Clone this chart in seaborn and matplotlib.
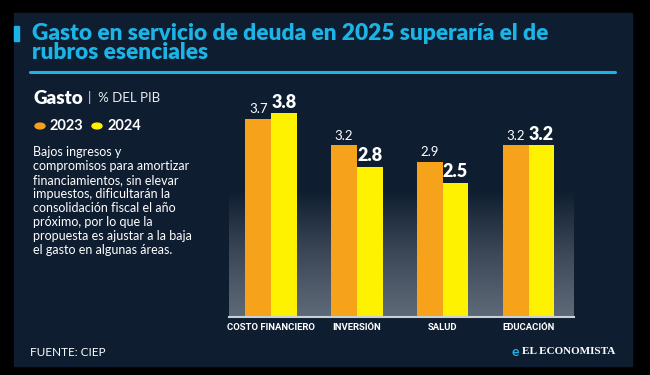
import numpy as np
import pandas as pd
import seaborn as sns
import matplotlib.pyplot as plt
from matplotlib.patches import Rectangle, Circle
from matplotlib.colors import LinearSegmentedColormap

## Data
rubros = ['COSTO FINANCIERO', 'INVERSIÓN', 'SALUD', 'EDUCACIÓN']
gasto_2023 = [3.7, 3.2, 2.9, 3.2]
gasto_2024 = [3.8, 2.8, 2.5, 3.2]
anios = ['2023', '2024']

df = pd.DataFrame({
    'rubro': rubros * 2,
    'valor': gasto_2023 + gasto_2024,
    'anio': [anios[0]] * 4 + [anios[1]] * 4,
})

NAVY = '#0e1d2f'
CYAN = '#1cb4e6'
ORANGE = '#f7a21b'
YELLOW = '#fff200'
W, H = 650, 375

sns.set_style('white')
plt.rcParams['font.family'] = ['Lato', 'DejaVu Sans']

fig = plt.figure(figsize=(6.5, 3.75), dpi=100, facecolor='black')

def fx(px):
    return px / W

def fy(py):
    return 1 - py / H

# panel (behind axes)
fig.patches.append(Rectangle((fx(14), fy(366)), fx(632 - 14), (366 - 13) / H,
                             transform=fig.transFigure, color=NAVY, zorder=-5))
fig.patches.append(Rectangle((fx(14), fy(41)), fx(5), 15 / H,
                             transform=fig.transFigure, color=CYAN, zorder=-4))
fig.lines.append(plt.Line2D([fx(30), fx(615)], [fy(72), fy(72)],
                            transform=fig.transFigure, color=CYAN, lw=2.2))

fig.text(fx(32), fy(43), 'Gasto en servicio de deuda en 2025 superaría el de\nrubros esenciales',
         color=CYAN, fontsize=16.3, fontweight='heavy', va='center', ha='left',
         linespacing=0.92)

# left side text
fig.text(fx(33), fy(98), 'Gasto', color='white', fontsize=13.5, fontweight='heavy', va='center')
fig.text(fx(88), fy(98), '|  % DEL PIB', color='#e8ecf0', fontsize=9.5, va='center')
for cx, col in [(40, ORANGE), (97, YELLOW)]:
    fig.patches.append(Circle((fx(cx), fy(126)), 5 / W, transform=fig.transFigure,
                              color=col, zorder=2))
fig.text(fx(50), fy(126), '2023', color='white', fontsize=10.5, fontweight='bold', va='center')
fig.text(fx(107), fy(126), '2024', color='white', fontsize=10.5, fontweight='bold', va='center')
parrafo = ('Bajos ingresos y\ncompromisos para amortizar\nfinanciamientos, sin elevar\n'
           'impuestos, dificultarán la\nconsolidación fiscal el año\npróximo, por lo que la\n'
           'propuesta es ajustar a la baja\nel gasto en algunas áreas.')
fig.text(fx(33), fy(146), parrafo, color='white', fontsize=9, va='top', ha='left',
         linespacing=1.2)

fig.text(fx(30), fy(352), 'FUENTE: CIEP', color='white', fontsize=8.5, va='center')
fig.text(fx(615), fy(352), 'EL ECONOMISTA', color='white', fontsize=8, va='center',
         ha='right', family='Liberation Serif', fontweight='bold')
fig.text(fx(515), fy(352), 'e', color=CYAN, fontsize=10, va='center', ha='center',
         fontweight='bold')

# bars
ax = fig.add_axes([fx(229), fy(317), fx(574 - 229), (317 - 80) / H])
ax.set_facecolor('none')
ppu = 53.6
sns.barplot(data=df, x='rubro', y='valor', hue='anio', palette=[ORANGE, YELLOW],
            width=0.6, saturation=1, legend=False, ax=ax, zorder=3,
            linewidth=0, edgecolor='none')

grad = LinearSegmentedColormap.from_list('g', [NAVY, '#3c4858', '#5f6a79'])
ax.imshow(np.linspace(0, 1, 100).reshape(-1, 1), cmap=grad, aspect='auto',
          extent=(-0.49, 3.53, 0, (317 - 190) / ppu), origin='upper', zorder=1)
ax.set_xlim(-0.49, 3.53)
ax.set_ylim(0, (317 - 80) / ppu)

for c, cont in enumerate(ax.containers):
    for bar, v in zip(cont, [gasto_2023, gasto_2024][c]):
        x = bar.get_x() + bar.get_width() / 2
        if c == 0:
            ax.text(x, v + 0.06, f'{v:.1f}', color='white', fontsize=9.5,
                    ha='center', va='bottom')
        else:
            ax.text(x, v + 0.05, f'{v:.1f}', color='white', fontsize=13,
                    fontweight='heavy', ha='center', va='bottom')

for s in ['top', 'right', 'left']:
    ax.spines[s].set_visible(False)
ax.spines['bottom'].set_color('#c8d0d8')
ax.spines['bottom'].set_linewidth(1.5)
ax.spines['bottom'].set_zorder(4)
ax.set_yticks([])
ax.set_xlabel('')
ax.set_ylabel('')
ax.tick_params(axis='x', length=0, pad=4)
for lab in ax.get_xticklabels():
    lab.set_color('white')
    lab.set_fontsize(6.8)
    lab.set_fontweight('bold')
    lab.set_fontfamily(['Liberation Sans Narrow', 'Roboto', 'DejaVu Sans'])

fig.savefig('out.png', dpi=100, facecolor='black')
